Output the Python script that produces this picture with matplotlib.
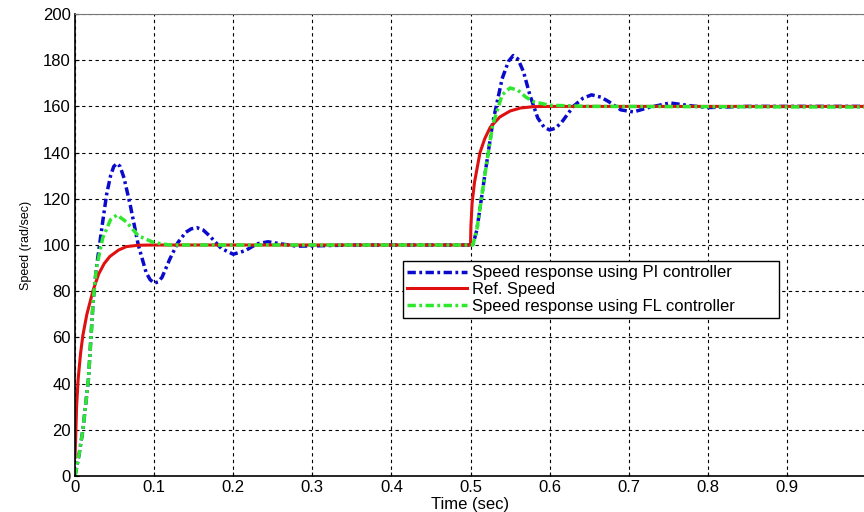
import numpy as np
import matplotlib
matplotlib.use("Agg")
import matplotlib.pyplot as plt

plt.rcParams['font.family'] = ['Liberation Sans', 'DejaVu Sans']

# reference speed (red)
t_ref = [0, 0.001, 0.002, 0.004, 0.007, 0.01, 0.015, 0.023, 0.03, 0.037, 0.044, 0.055, 0.065, 0.08, 0.1,
         0.5, 0.5005, 0.502, 0.505, 0.512, 0.518, 0.525, 0.537, 0.55, 0.563, 0.58, 0.6, 1.0]
w_ref = [8, 18, 30, 42, 53, 61, 70, 80.5, 87.5, 92, 95, 97.8, 99.3, 99.9, 100,
         100, 108, 118, 127, 140, 146, 151, 155.4, 158, 159.3, 159.9, 160, 160]

# PI controller response (blue)
t_pi = [0, 0.005, 0.01, 0.017, 0.023, 0.027, 0.035, 0.04, 0.045, 0.049, 0.053, 0.057, 0.062, 0.07,
        0.08, 0.09, 0.095, 0.1, 0.105, 0.11, 0.12, 0.13, 0.14, 0.147, 0.154, 0.162, 0.17, 0.185,
        0.2, 0.215, 0.23, 0.244, 0.26, 0.28, 0.3, 0.35,
        0.5, 0.503, 0.508, 0.518, 0.528, 0.54, 0.548, 0.554, 0.56, 0.567, 0.575, 0.585, 0.593,
        0.6, 0.607, 0.615, 0.63, 0.642, 0.653, 0.665, 0.675, 0.69, 0.706, 0.725, 0.752, 0.78,
        0.8, 0.85, 1.0]
w_pi = [0, 9, 20, 42, 76, 90, 110, 122, 130, 134, 135.3, 134, 129, 117,
        100, 88, 85, 83.5, 84, 86, 94, 101, 105.5, 107, 107.5, 106.5, 104, 98.5,
        96, 97.5, 100.5, 101.4, 100.5, 99.5, 99.6, 100,
        100, 100, 106.5, 130, 152.8, 172, 179.5, 182, 180.5, 175, 165, 155, 151,
        149.8, 150.5, 153, 160, 163.5, 165, 164, 162, 158.5, 157.6, 159.5, 161.5, 160.2,
        159.5, 160, 160]

# FL controller response (green)
t_fl = [0, 0.005, 0.01, 0.017, 0.023, 0.027, 0.035, 0.045, 0.053, 0.065, 0.08, 0.1, 0.12, 0.5,
        0.503, 0.508, 0.518, 0.528, 0.54, 0.55, 0.56, 0.57, 0.58, 0.6, 0.65, 1.0]
w_fl = [0, 9, 20, 42, 76, 90, 103, 111, 113, 110, 104, 101, 100, 100,
        100, 106.5, 130, 152, 165, 168, 167, 164, 162, 160.5, 160, 159.7]

x_ticks = np.arange(0, 1.01, 0.1)
x_labels = ['0', '0.1', '0.2', '0.3', '0.4', '0.5', '0.6', '0.7', '0.8', '0.9', '']

fig = plt.figure(figsize=(8.64, 5.12), dpi=100)
ax = fig.add_axes([75/864, 36/512, 791/864, 462/512])

dashdot = (0, (2.4, 1.0, 0.8, 1.0))
ax.plot(t_pi, w_pi, color='#0a0acc', linestyle=dashdot, linewidth=2.5,
        label='Speed response using PI controller')
ax.plot(t_ref, w_ref, color='#e01010', linestyle='-', linewidth=2.2, label='Ref. Speed')
ax.plot(t_fl, w_fl, color='#2ee82e', linestyle=dashdot, linewidth=2.5,
        label='Speed response using FL controller')

ax.set_xlim(0, 1)
ax.set_ylim(0, 200)
ax.set_xticks(x_ticks)
ax.set_xticklabels(x_labels)
ax.set_yticks(np.arange(0, 201, 20))
ax.tick_params(direction='in', length=3, labelsize=12, colors='black', pad=3)
ax.grid(True, color='black', linestyle=(0, (3, 3)), linewidth=0.8)
for s in ['left', 'bottom']:
    ax.spines[s].set_linewidth(1.2)
ax.spines['top'].set_color('#777777')
ax.spines['top'].set_linewidth(0.8)

ax.set_xlabel('Time (sec)', fontsize=12, labelpad=1)
ax.set_ylabel('Speed (rad/sec)', fontsize=9, labelpad=8)

leg = ax.legend(loc='lower left', bbox_to_anchor=(0.415, 0.342, 0.475, 0.13), mode='expand',
                fontsize=12, handlelength=3.6, fancybox=False, framealpha=1, borderpad=0.25,
                labelspacing=0.1, handletextpad=0.3, borderaxespad=0)
leg.get_frame().set_edgecolor('black')
leg.get_frame().set_linewidth(1.0)

fig.savefig('out.png', dpi=100)
